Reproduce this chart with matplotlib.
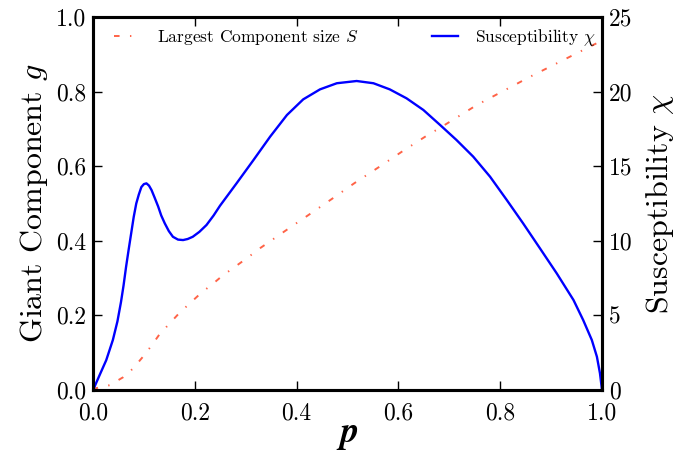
import matplotlib
matplotlib.use("Agg")
import matplotlib.pyplot as plt

plt.rcParams['font.family'] = 'serif'
plt.rcParams['font.serif'] = ['cmr10']
plt.rcParams['mathtext.fontset'] = 'cm'
plt.rcParams['axes.formatter.use_mathtext'] = True
plt.rcParams['lines.scale_dashes'] = False

# Susceptibility chi (right axis)
p_chi = [0, 0.003, 0.013, 0.026, 0.039, 0.048, 0.055, 0.060, 0.065, 0.070, 0.075, 0.080,
         0.085, 0.090, 0.095, 0.100, 0.105, 0.110, 0.115, 0.121, 0.128, 0.134,
         0.141, 0.149, 0.157, 0.167, 0.177, 0.186, 0.196, 0.209, 0.223, 0.237,
         0.2495, 0.282, 0.315, 0.348, 0.381, 0.413, 0.446, 0.479, 0.518, 0.551,
         0.583, 0.616, 0.649, 0.682, 0.714, 0.747, 0.780, 0.813, 0.845, 0.878,
         0.911, 0.944, 0.963, 0.980, 0.990, 0.996, 1.0]
chi = [0, 0.22, 1.0, 2.0, 3.35, 4.6, 5.9, 7.0, 8.26, 9.4, 10.5, 11.6,
       12.5, 13.1, 13.6, 13.8, 13.85, 13.7, 13.4, 12.9, 12.3, 11.7,
       11.17, 10.65, 10.27, 10.08, 10.05, 10.12, 10.27, 10.6, 11.06, 11.7,
       12.35, 13.85, 15.4, 16.98, 18.43, 19.48, 20.15, 20.56, 20.71, 20.56,
       20.15, 19.55, 18.77, 17.76, 16.76, 15.64, 14.3, 12.73, 11.17, 9.5,
       7.82, 6.03, 4.69, 3.35, 2.23, 1.12, 0]

# Largest component size S (left axis)
p_S = [0, 0.0065, 0.033, 0.059, 0.079, 0.098, 0.115, 0.131, 0.151, 0.170, 0.190,
       0.213, 0.234, 0.254, 0.302, 0.328, 0.394, 0.420, 0.468, 0.513, 0.561,
       0.608, 0.657, 0.682, 0.754, 0.859, 0.99, 1.0]
S = [0, 0.005, 0.013, 0.034, 0.058, 0.089, 0.119, 0.150, 0.179, 0.207, 0.232,
     0.261, 0.283, 0.306, 0.353, 0.38, 0.442, 0.466, 0.511, 0.554, 0.597,
     0.640, 0.683, 0.703, 0.764, 0.84, 0.93, 0.94]

xticks = [0.0, 0.2, 0.4, 0.6, 0.8, 1.0]
yticks_left = [0.0, 0.2, 0.4, 0.6, 0.8, 1.0]
yticks_right = [0, 5, 10, 15, 20, 25]

fig = plt.figure(figsize=(6.9, 4.51), dpi=100)
ax = fig.add_axes([93/690, 61/451, 509/690, 373/451])
ax2 = ax.twinx()

l1, = ax.plot(p_S, S, color='#ff6347', lw=1.4, linestyle=(0, (4, 7.5, 1, 7.5)),
              label='Largest Component size $S$')
l2, = ax2.plot(p_chi, chi, color='#0000ff', lw=1.7, label=r'Susceptibility $\chi$')

ax.set_xlim(0, 1)
ax.set_ylim(0, 1)
ax2.set_ylim(0, 25)
ax.set_xticks(xticks)
ax.set_xticklabels(['%.1f' % v for v in xticks])
ax.set_yticks(yticks_left)
ax.set_yticklabels(['%.1f' % v for v in yticks_left])
ax2.set_yticks(yticks_right)
ax2.set_yticklabels([str(v) for v in yticks_right])

for a in (ax, ax2):
    for s in a.spines.values():
        s.set_linewidth(2.2)
ax.tick_params(axis='x', direction='in', top=True, bottom=True, length=6.5, width=1.0,
               labelsize=17, pad=9)
ax.tick_params(axis='y', direction='in', left=True, right=False, length=6.5, width=1.0,
               labelsize=17, pad=5)
ax2.tick_params(axis='y', direction='in', length=6.5, width=1.0, labelsize=17, pad=5)

ax.set_xlabel(r'$\boldsymbol{p}$', fontsize=26, labelpad=-3)
ax.set_ylabel('Giant Component $g$', fontsize=23, labelpad=4)
ax2.set_ylabel(r'Susceptibility $\chi$', fontsize=23, labelpad=8)

ax2.legend(handles=[l1, l2], loc='center', bbox_to_anchor=(0.515, 0.944),
           ncol=2, frameon=False, fontsize=12.5, handlelength=1.5,
           handletextpad=1.0, columnspacing=4.2)

fig.savefig('out.png', dpi=100)
